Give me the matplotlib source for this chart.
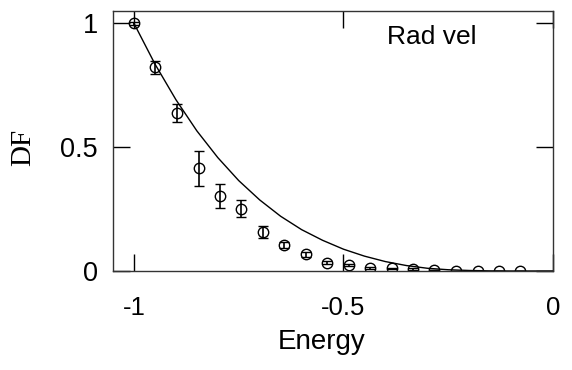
import numpy as np
import matplotlib.pyplot as plt

# binned distribution function (radial velocity sample)
energy = [-1.000, -0.949, -0.898, -0.846, -0.795, -0.744, -0.693, -0.641, -0.590,
          -0.539, -0.488, -0.437, -0.385, -0.334, -0.283, -0.232, -0.180, -0.129, -0.078]
df_vals = [1.000, 0.822, 0.638, 0.415, 0.304, 0.252, 0.157, 0.105, 0.067,
           0.034, 0.024, 0.013, 0.011, 0.008, 0.004, 0.001, 0.001, 0.001, 0.001]
df_err = [0.006, 0.025, 0.036, 0.070, 0.049, 0.033, 0.025, 0.012, 0.010,
          0.007, 0.005, 0.004, 0.003, 0.003, 0.002, 0.0, 0.0, 0.0, 0.0]

# model curve
model_e = [-1.00, -0.95, -0.90, -0.85, -0.80, -0.75, -0.70, -0.65, -0.60, -0.55,
           -0.50, -0.45, -0.40, -0.35, -0.30, -0.25, -0.20, -0.15, -0.10, 0.00]
model_df = [1.000, 0.836, 0.692, 0.566, 0.458, 0.365, 0.287, 0.221, 0.167, 0.124,
            0.088, 0.060, 0.038, 0.022, 0.011, 0.005, 0.002, 0.0005, 0.0, 0.0]

fig = plt.figure(figsize=(5.72, 3.70), dpi=100)
ax = fig.add_axes([0.1976, 0.2676, 0.7692, 0.7027])

ax.plot(model_e, model_df, color='black', lw=1.0)
ax.errorbar(energy, df_vals, yerr=df_err, fmt='o', mfc='none', mec='black',
            ms=7.5, mew=1.0, ecolor='black', elinewidth=1.2, capsize=3.5,
            capthick=1.2, clip_on=True)

ax.set_xlim(-1.05, 0)
ax.set_ylim(0, 1.05)
ax.set_xticks([-1, -0.5, 0])
ax.set_xticklabels(['-1', '-0.5', '0'])
ax.set_yticks([0, 0.5, 1])
ax.set_yticklabels(['0', '0.5', '1'])

ax.tick_params(direction='in', length=12.5, width=1.0, top=True, right=True)
ax.tick_params(axis='x', labelsize=18.5, pad=18)
ax.tick_params(axis='y', labelsize=19.5, pad=11)
for s in ax.spines.values():
    s.set_linewidth(1.0)
    s.set_color('#333333')

ax.set_xlabel('Energy', fontsize=20, family='Liberation Sans')
ax.xaxis.set_label_coords(0.475, -0.225)
ax.set_ylabel('DF', fontsize=21, family='Liberation Serif')
ax.yaxis.set_label_coords(-0.175, 0.477)

for lab in ax.get_xticklabels() + ax.get_yticklabels():
    lab.set_family('Liberation Sans')

ax.text(-0.396, 0.945, 'Rad vel', fontsize=19, family='Liberation Sans',
        ha='left', va='center')

fig.savefig('out.png', dpi=100)
